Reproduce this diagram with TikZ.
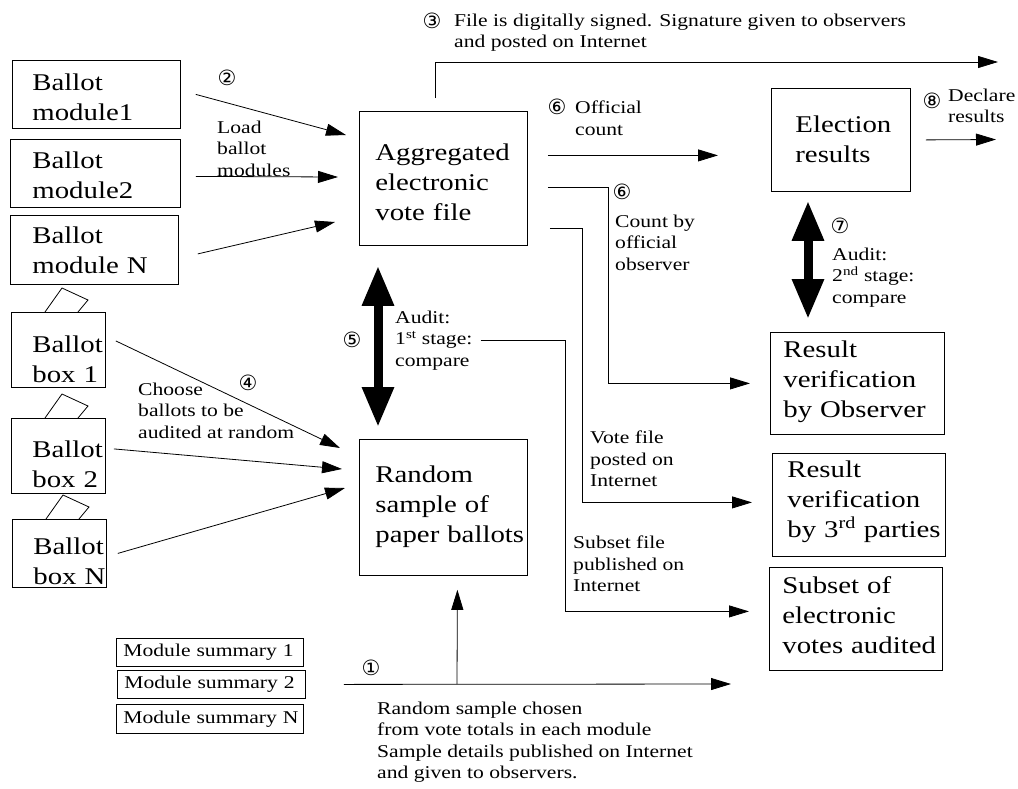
\documentclass[tikz,border=0pt]{standalone}
\usepackage{fontspec}
\setmainfont{Liberation Serif}[FakeStretch=1.2]
\newfontfamily\circfont{DejaVu Sans}
\usetikzlibrary{arrows.meta}

\newcommand\bigfs{\fontsize{24}{30}\selectfont}
\newcommand\smallfs{\fontsize{18}{21.5}\selectfont}
\newcommand\numfs{\circfont\fontsize{21}{21}\selectfont}
\hyphenpenalty=10000

\tikzset{
  blk/.style={draw, line width=0.8pt, anchor=north west, inner ysep=0pt,
    align=left, font=\bigfs},
  pad/.style 2 args={execute at begin node={\rule{0pt}{#1}},
    execute at end node={\rule[-#2]{0pt}{#2}}},
  sumbox/.style={draw, line width=0.8pt, anchor=north west, inner ysep=0pt,
    inner xsep=7pt, align=left, font=\smallfs},
  note/.style={anchor=north west, inner sep=0pt, align=left, font=\smallfs},
  num/.style={inner sep=0pt, font=\numfs},
  flow/.style={->, line width=0.8pt},
  audit/.style={{Triangle[length=40pt,width=30pt]}-{Triangle[length=40pt,width=30pt]},
    line width=9pt},
}

\begin{document}
\begin{tikzpicture}[x=1pt,y=-1pt,>={Triangle[length=20pt,width=12pt]}]
  \useasboundingbox (0,0) rectangle (1018,788);

  % ballot modules
  \node[blk, pad={30pt}{8pt}, text width=128pt, inner xsep=20pt] (mod1) at (12,60) {Ballot\\module1};
  \node[blk, pad={29pt}{9pt}, text width=126pt, inner xsep=22pt] (mod2) at (10,139) {Ballot\\module2};
  \node[blk, pad={28pt}{11pt}, text width=124pt, inner xsep=22pt] (modN) at (10,215) {Ballot\\module~N};

  % ballot boxes
  \node[blk, pad={40pt}{5pt}, text width=52pt, inner xsep=21pt] (box1) at (11,312) {Ballot\\box~1};
  \node[blk, pad={39pt}{6pt}, text width=52pt, inner xsep=21pt] (box2) at (11,418) {Ballot\\box~2};
  \node[blk, pad={35pt}{3pt}, text width=52pt, inner xsep=21pt] (boxN) at (12,519) {Ballot\\box~N};

  % slots on the boxes
  \draw[line width=0.8pt] ([xshift=34pt]box1.north west) -- ++(17,-24) -- ++(26,12) -- ++(-10,12);
  \draw[line width=0.8pt] ([xshift=34pt]box2.north west) -- ++(17,-24) -- ++(26,12) -- ++(-10,12);
  \draw[line width=0.8pt] ([xshift=34pt]boxN.north west) -- ++(17,-24) -- ++(26,12) -- ++(-10,12);

  % middle column
  \node[blk, pad={49pt}{25pt}, text width=136pt, inner xsep=16pt] (agg) at (359,111) {Aggregated\\electronic\\vote~file};
  \node[blk, pad={43pt}{33pt}, text width=136pt, inner xsep=16pt] (rand) at (359,439) {Random\\sample~of\\paper~ballots};

  % right column
  \node[blk, pad={44pt}{29pt}, text width=91pt, inner xsep=24pt] (elec) at (771,88) {Election\\results};
  \node[blk, pad={25pt}{17pt}, text width=148pt, inner xsep=13pt] (obs) at (770,332) {Result\\verification\\by~Observer};
  \node[blk, pad={24pt}{19pt}, text width=143pt, inner xsep=15pt] (third) at (772,453) {Result\\verification\\by~3\textsuperscript{rd}~parties};
  \node[blk, pad={26pt}{17pt}, text width=147pt, inner xsep=13pt] (subset) at (769,567) {Subset~of\\electronic\\votes~audited};

  % module summaries
  \node[sumbox, text width=173pt, minimum height=28pt] (ms1) at (116,638) {Module~summary~1};
  \node[sumbox, text width=174pt, minimum height=28pt] (ms2) at (117,670) {Module~summary~2};
  \node[sumbox, text width=173pt, minimum height=29pt] (msN) at (116,704) {Module~summary~N};

  % step labels
  \node[num] (n2) at (227,78) {②};
  \node[note] (labload) at (217,120.7) {Load\\ballot\\modules};
  \node[num] (n4) at (248,383) {④};
  \node[note] (labchoose) at (138,382.7) {Choose\\ballots to be\\audited at random};
  \node[num] (n3) at (432,21) {③};
  \node[note] (labsig) at (454,13.7) {File is digitally signed. Signature given to observers\\and posted on Internet};
  \node[num] (n6a) at (557,107) {⑥};
  \node[note] (laboff) at (575,100.7) {Official\\count};
  \node[num] (n8) at (932,101) {⑧};
  \node[note] (labdecl) at (948,88.7) {Declare\\results};
  \node[num] (n6b) at (622,192) {⑥};
  \node[note] (labcount) at (615,214.7) {Count by\\official\\observer};
  \node[num] (n7) at (840,226) {⑦};
  \node[note] (labaudit2) at (832,247.7) {Audit:\\2\textsuperscript{nd} stage:\\compare};
  \node[num] (n5) at (352,340) {⑤};
  \node[note] (labaudit1) at (395,310.7) {Audit:\\1\textsuperscript{st} stage:\\compare};
  \node[note] (labvote) at (590,430.7) {Vote file\\posted on\\Internet};
  \node[note] (labsub) at (573,535.7) {Subset file\\published on\\Internet};
  \node[num] (n1) at (371,668) {①};
  \node[note] (labsample) at (377,701.7) {Random sample chosen\\from vote totals in each module\\Sample details published on Internet\\and given to observers.};

  % free ends
  \coordinate (sigend) at (998,62);
  \coordinate (declend) at (996,139.5);
  \coordinate (sampend) at (731,684);
  \coordinate (branch) at (457,684);

  % load modules
  \draw[flow] ([xshift=15pt]mod1.east) -- ([xshift=-13pt,yshift=-24pt]agg.north west);
  \draw[flow] ([xshift=15pt,yshift=-3pt]mod2.east) -- ([xshift=-21pt,yshift=-66pt]agg.north west);
  \draw[flow] ([xshift=19pt,yshift=-4pt]modN.east) -- ([xshift=-24pt,yshift=-111pt]agg.north west);

  % choose ballots
  \draw[flow] ([xshift=10pt,yshift=9pt]box1.east) -- ([xshift=-19pt,yshift=-9pt]rand.north west);
  \draw[flow] ([xshift=8pt,yshift=7pt]box2.east) -- ([xshift=-17pt,yshift=-30pt]rand.north west);
  \draw[flow] ([xshift=11pt,yshift=0pt]boxN.east) -- ([xshift=-14pt,yshift=-49pt]rand.north west);

  % out of the vote file
  \draw[flow] ([xshift=76pt,yshift=13pt]agg.north west) |- (sigend);
  \draw[flow] ([xshift=20pt,yshift=23pt]agg.east) -- ([xshift=-53pt,yshift=-15.5pt]elec.west);
  \draw[flow] ([xshift=15pt]elec.east) -- (declend);
  \draw[flow] ([xshift=20pt,yshift=-9pt]agg.east) -- ++(61,0) |- ([xshift=-20pt]obs.west);
  \draw[flow] ([xshift=22pt,yshift=-50pt]agg.east) -- ++(33,0) |- ([xshift=-20pt,yshift=2.5pt]third.west);
  \draw[flow] ([xshift=8pt]labaudit1.east) -- ++(85,0) |- ([xshift=-20pt,yshift=7.5pt]subset.west);

  % random sample
  \draw[flow] ([xshift=38pt]ms2.east) -- (sampend);
  \draw[flow] (branch) -- ([xshift=14pt,yshift=-14pt]rand.south);

  % audits
  \draw[audit] ([xshift=19pt,yshift=-20pt]agg.south west) -- ([xshift=19pt,yshift=12pt]rand.north west);
  \draw[audit] ([xshift=37pt,yshift=-9pt]elec.south west) -- ([xshift=38pt,yshift=13pt]obs.north west);
\end{tikzpicture}
\end{document}
